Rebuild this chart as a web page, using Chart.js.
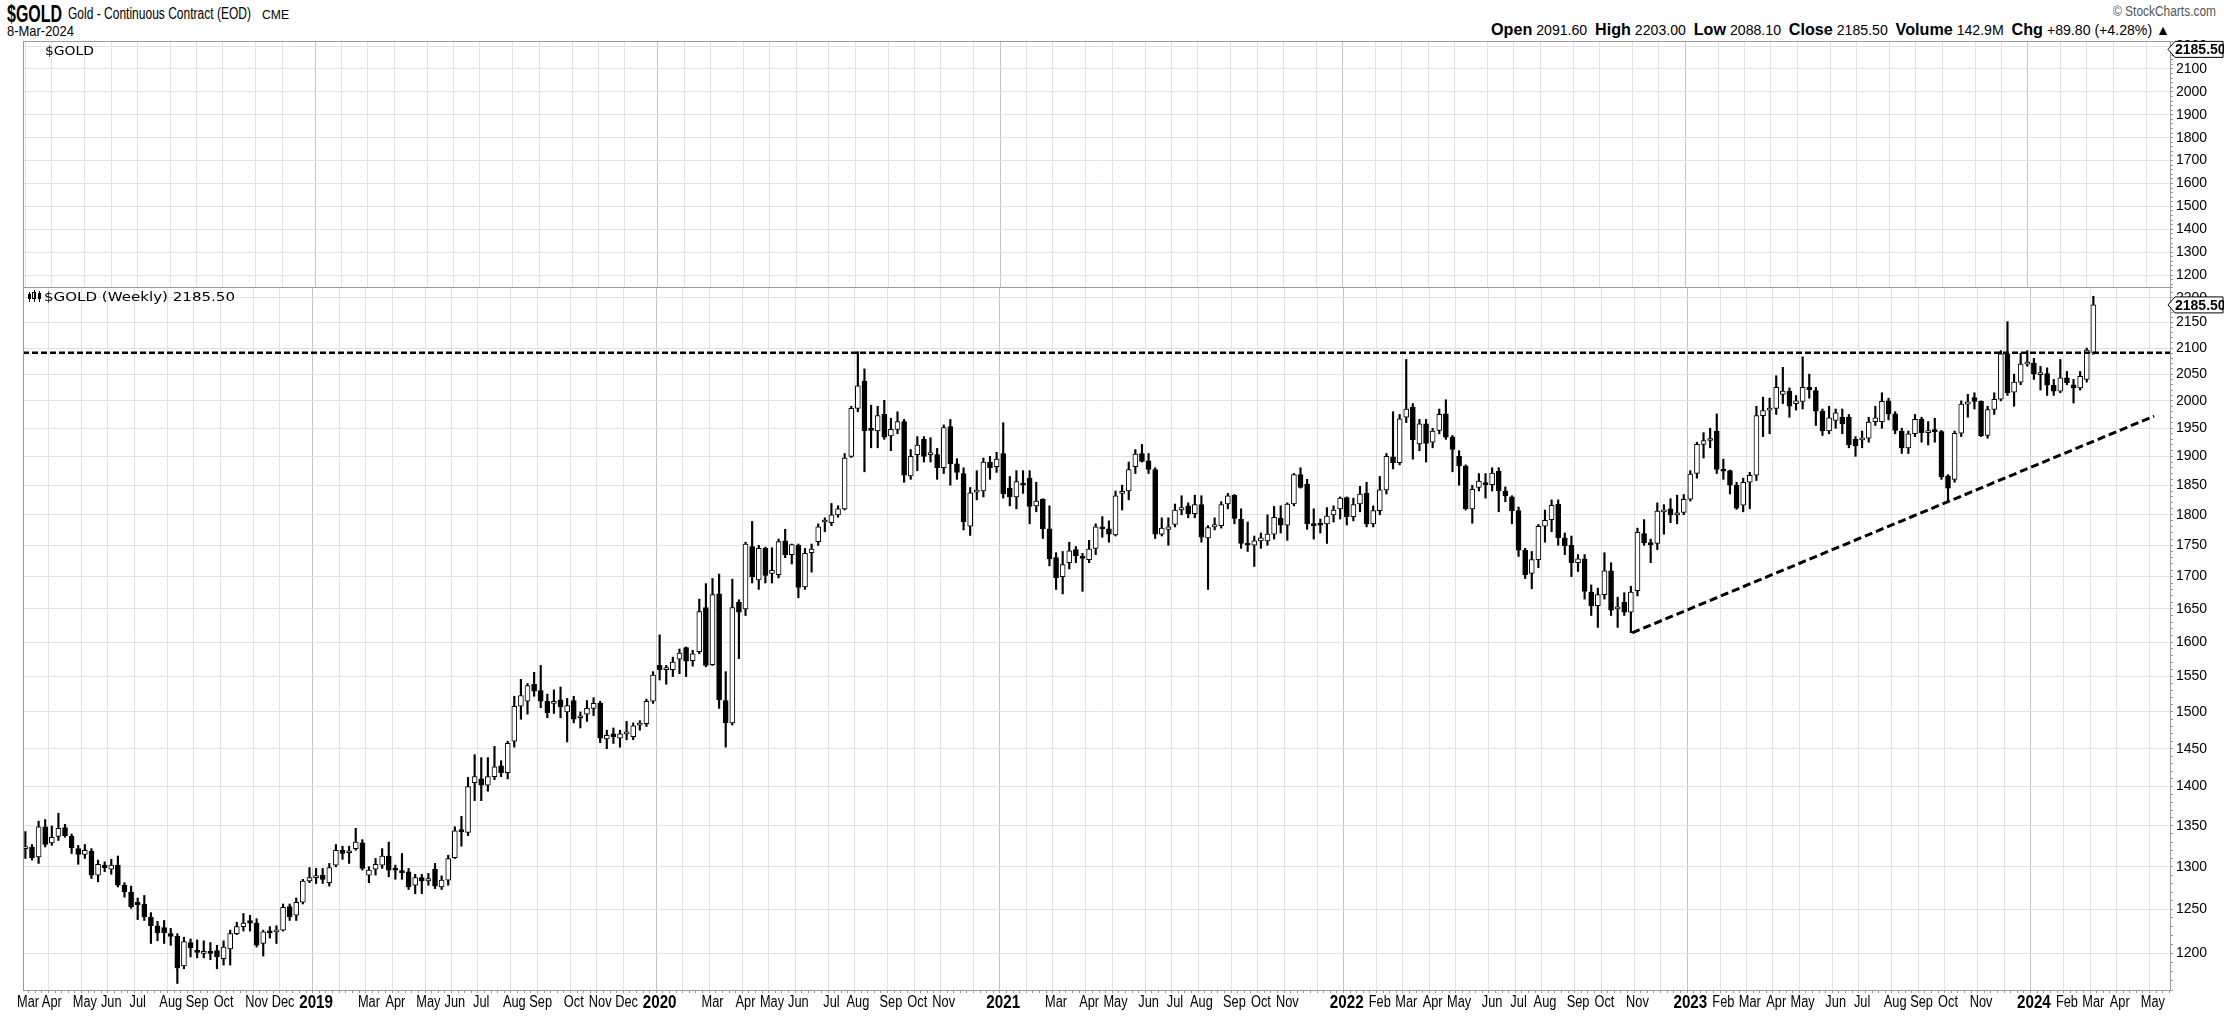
<!DOCTYPE html>
<html>
<head>
<meta charset="utf-8">
<script src="https://cdn.jsdelivr.net/npm/chart.js@4.4.1/dist/chart.umd.min.js"></script>
<style>
  body { margin: 0; background: #fff; width: 2224px; height: 1016px; overflow: hidden; position: relative; }
  canvas { position: absolute; left: 0; top: 0; }
  .t { position: absolute; white-space: nowrap; color: #000; font-family: "Liberation Sans", Arial, sans-serif; transform-origin: 0 0; }
  .lab { position: absolute; white-space: nowrap; color: #000; font: 13px "DejaVu Sans", Verdana, sans-serif; transform-origin: 0 0; }
</style>
</head>
<body>
<div class="t" id="hTitle" style="top:0px;font-size:24px;font-weight:bold;">$GOLD</div>
<div class="t" id="hName" style="top:5px;font-size:16px;">Gold - Continuous Contract (EOD)</div>
<div class="t" id="hExch" style="top:8px;font-size:12px;">CME</div>
<div class="t" id="hDate" style="top:22px;font-size:15px;">8-Mar-2024</div>
<div class="t" id="hCopy" style="top:3px;font-size:14px;color:#555;">© StockCharts.com</div>
<div class="t" id="hQuote" style="top:21px;font-size:14px;"><b style="font-size:16px">Open</b> 2091.60 &nbsp;<b style="font-size:16px">High</b> 2203.00 &nbsp;<b style="font-size:16px">Low</b> 2088.10 &nbsp;<b style="font-size:16px">Close</b> 2185.50 &nbsp;<b style="font-size:16px">Volume</b> 142.9M &nbsp;<b style="font-size:16px">Chg</b> +89.80 (+4.28%) ▲</div>

<canvas id="top" width="2224" height="300"></canvas>
<canvas id="main" width="2224" height="1016"></canvas>

<div class="lab" id="lTop" style="top:43px;">$GOLD</div>
<div class="lab" id="lMain" style="top:289px;">$GOLD (Weekly) 2185.50</div>

<script>
// weekly bars, dated by the Monday of each week, first bar = week of 5 Mar 2018
const startWeek = Date.UTC(2018, 2, 5);
const axisWeeks = 325; // axis runs on to late May 2024
const monthNames = ['Jan', 'Feb', 'Mar', 'Apr', 'May', 'Jun', 'Jul', 'Aug', 'Sep', 'Oct', 'Nov', 'Dec'];
// labels squeezed out next to a year label (4-week months)
const hiddenMonthLabels = ['2019-1', '2020-1', '2021-1', '2020-11', '2021-11', '2022-11', '2023-11'];

const opens = [
  1322,1324,1312,1349,1329,1337,1348,1337,1322,1315,1319,1290,1302,1297,1302,1278,1270,1258,1256,1241,
  1231,1229,1222,1219,1186,1212,1203,1200,1202,1203,1194,1205,1222,1230,1237,1234,1211,1224,1224,1226,
  1253,1243,1258,1283,1287,1290,1281,1302,1320,1317,1322,1329,1290,1297,1302,1313,1298,1295,1294,1278,
  1287,1283,1297,1276,1284,1311,1344,1342,1405,1410,1402,1413,1427,1418,1460,1508,1515,1539,1530,1515,
  1512,1517,1500,1516,1492,1497,1505,1512,1463,1470,1464,1470,1466,1482,1484,1515,1566,1560,1560,1575,
  1592,1573,1586,1652,1567,1673,1516,1485,1660,1650,1748,1695,1745,1705,1703,1757,1735,1750,1684,1738,
  1756,1788,1787,1800,1810,1900,1986,2037,1949,1945,1975,1936,1948,1962,1866,1903,1930,1903,1903,1880,
  1953,1887,1870,1781,1838,1840,1890,1882,1905,1845,1830,1853,1862,1815,1826,1777,1730,1700,1722,1743,
  1732,1727,1745,1779,1777,1767,1836,1840,1882,1905,1892,1877,1768,1776,1784,1808,1815,1802,1817,1762,
  1780,1782,1818,1833,1793,1752,1750,1757,1757,1768,1794,1783,1818,1868,1852,1785,1784,1785,1800,1810,
  1829,1797,1818,1836,1785,1807,1842,1899,1889,1970,1988,1922,1958,1925,1946,1976,1934,1900,1883,1810,
  1846,1853,1851,1874,1840,1830,1807,1742,1705,1727,1781,1792,1818,1762,1750,1722,1728,1676,1655,1672,
  1709,1650,1660,1645,1678,1769,1754,1753,1805,1810,1800,1804,1826,1870,1921,1928,1945,1877,1875,1850,
  1816,1855,1867,1973,1983,1986,2012,2018,1995,1999,2025,2019,1981,1945,1964,1970,1970,1930,1929,1932,
  1962,1962,2000,1976,1945,1915,1940,1966,1942,1945,1944,1866,1860,1941,1994,2006,1999,1937,1984,2003,
  2089,2016,2035,2069,2071,2049,2051,2029,2018,2043,2030,2024,2040,2091.6
];
const highs = [
  1343,1327,1356,1358,1350,1366,1352,1340,1326,1327,1322,1308,1306,1309,1313,1281,1277,1263,1266,1246,
  1236,1237,1228,1222,1218,1216,1215,1214,1212,1209,1214,1226,1235,1245,1243,1239,1226,1230,1231,1256,
  1256,1263,1285,1299,1298,1298,1304,1327,1325,1325,1347,1333,1300,1310,1322,1330,1302,1316,1298,1291,
  1291,1292,1304,1289,1314,1349,1362,1412,1442,1438,1438,1453,1434,1460,1522,1546,1540,1556,1566,1525,
  1531,1535,1519,1522,1500,1516,1520,1515,1475,1478,1475,1487,1485,1488,1518,1557,1611,1566,1578,1590,
  1593,1588,1665,1689,1697,1704,1557,1696,1664,1755,1789,1750,1747,1746,1760,1776,1752,1752,1745,1752,
  1785,1795,1819,1815,1905,1990,2093,2060,1992,1990,2001,1968,1980,1966,1912,1935,1935,1933,1914,1956,
  1966,1896,1880,1846,1875,1897,1900,1907,1960,1865,1875,1875,1875,1855,1827,1815,1738,1740,1755,1748,
  1737,1758,1785,1797,1790,1840,1850,1890,1912,1921,1905,1880,1795,1795,1818,1832,1820,1833,1832,1782,
  1795,1822,1836,1834,1810,1788,1765,1770,1800,1814,1815,1820,1870,1880,1860,1810,1793,1812,1815,1830,
  1830,1828,1848,1855,1815,1865,1905,1980,1975,2078,1995,1966,1966,1950,1985,2002,1937,1910,1885,1850,
  1870,1870,1880,1880,1847,1832,1813,1745,1740,1784,1808,1825,1825,1770,1765,1735,1735,1687,1682,1738,
  1722,1668,1675,1685,1778,1792,1760,1820,1817,1827,1833,1834,1875,1925,1942,1950,1976,1895,1876,1855,
  1862,1872,1990,2007,2005,2047,2063,2024,2010,2083,2050,2025,1985,1990,1985,1985,1975,1935,1945,1970,
  1990,2015,2005,1980,1950,1945,1975,1970,1962,1968,1946,1868,1945,2000,2012,2015,2000,1990,2015,2095,
  2152,2050,2090,2095,2080,2065,2062,2040,2078,2055,2040,2055,2100,2203
];
const lows = [
  1310,1308,1304,1324,1326,1332,1336,1316,1303,1310,1286,1282,1294,1291,1276,1264,1251,1238,1237,1211,
  1214,1211,1209,1167,1183,1196,1195,1195,1193,1183,1187,1187,1221,1225,1225,1207,1197,1217,1211,1225,
  1237,1237,1256,1281,1280,1280,1277,1300,1309,1304,1320,1296,1281,1290,1298,1288,1285,1285,1273,1268,
  1268,1278,1274,1273,1278,1310,1325,1338,1382,1382,1394,1409,1413,1410,1452,1490,1497,1522,1506,1492,
  1498,1492,1459,1485,1478,1487,1495,1458,1450,1457,1452,1462,1462,1475,1480,1512,1545,1539,1550,1554,
  1550,1565,1583,1564,1566,1505,1452,1482,1576,1640,1690,1680,1690,1690,1698,1730,1720,1667,1680,1707,
  1750,1772,1782,1796,1808,1898,1980,1873,1915,1915,1930,1910,1940,1855,1860,1875,1890,1890,1860,1870,
  1850,1860,1775,1766,1825,1830,1860,1872,1828,1815,1810,1836,1785,1805,1761,1717,1680,1673,1712,1722,
  1677,1722,1735,1763,1755,1765,1808,1825,1870,1890,1870,1761,1765,1750,1780,1800,1795,1795,1755,1680,
  1775,1778,1810,1785,1745,1740,1716,1745,1750,1760,1770,1758,1815,1845,1776,1760,1770,1753,1788,1793,
  1783,1790,1805,1780,1780,1800,1835,1878,1885,1960,1895,1910,1890,1915,1940,1930,1873,1850,1808,1786,
  1840,1828,1840,1805,1822,1785,1732,1697,1681,1714,1755,1772,1750,1735,1700,1708,1665,1640,1622,1665,
  1640,1622,1640,1614,1670,1750,1722,1743,1768,1787,1785,1800,1823,1862,1897,1915,1870,1860,1835,1809,
  1805,1810,1858,1935,1940,1975,1995,1970,1983,1985,2005,1955,1937,1940,1950,1940,1915,1900,1915,1925,
  1955,1950,1965,1940,1905,1905,1935,1925,1920,1925,1860,1822,1855,1935,1970,1985,1935,1932,1975,2000,
  2010,1990,2030,2065,2040,2020,2010,2010,2015,2030,1996,2020,2035,2088.1
];
const closes = [
  1324,1311,1349,1327,1336,1347,1338,1323,1315,1320,1290,1303,1299,1302,1278,1270,1253,1255,1241,1231,
  1223,1223,1219,1184,1213,1206,1201,1202,1200,1196,1207,1222,1230,1234,1234,1209,1224,1223,1226,1252,
  1241,1258,1283,1287,1289,1285,1299,1320,1316,1319,1330,1298,1296,1303,1313,1296,1296,1293,1276,1287,
  1283,1286,1277,1284,1310,1344,1343,1400,1413,1402,1413,1426,1418,1457,1508,1523,1537,1529,1515,1499,
  1514,1507,1509,1490,1493,1505,1512,1464,1468,1466,1470,1471,1481,1484,1515,1552,1560,1561,1571,1584,
  1572,1583,1646,1566,1672,1517,1485,1652,1645,1752,1700,1745,1702,1710,1756,1735,1751,1683,1737,1744,
  1780,1790,1800,1810,1897,1986,2028,1945,1946,1973,1934,1948,1962,1867,1900,1920,1900,1904,1880,1951,
  1887,1872,1788,1837,1840,1890,1880,1895,1835,1830,1856,1850,1814,1823,1777,1728,1698,1719,1741,1733,
  1729,1744,1780,1777,1768,1832,1839,1877,1904,1891,1877,1768,1778,1780,1808,1812,1802,1817,1763,1779,
  1784,1817,1832,1794,1753,1750,1757,1762,1768,1796,1783,1818,1868,1846,1785,1782,1783,1798,1808,1828,
  1797,1817,1835,1785,1807,1842,1900,1889,1967,1985,1929,1958,1923,1945,1975,1934,1912,1883,1810,1843,
  1857,1851,1871,1840,1832,1807,1742,1703,1727,1781,1791,1816,1762,1749,1722,1728,1677,1655,1672,1709,
  1648,1653,1645,1676,1771,1754,1751,1806,1807,1800,1802,1826,1869,1921,1928,1930,1877,1874,1850,1811,
  1855,1867,1973,1982,1986,2025,2018,1990,2000,2025,2021,1981,1945,1969,1978,1958,1920,1919,1931,1961,
  1969,1999,1976,1946,1915,1940,1966,1942,1945,1944,1864,1845,1941,1994,1998,1999,1936,1984,2003,2089,
  2015,2035,2069,2072,2050,2051,2029,2018,2043,2034,2024,2046,2096,2185.5
];

// drawn lines: resistance at the Aug-2020 high and the rising trendline from the Nov-2022 low
const resistance = 2091;
const trendStart = { week: 243.2, price: 1614 };
const trendEnd = { week: 322.2, price: 1972 };
const lastClose = 2185.5;

const xMin = -0.36, xMax = 324.6;

// header text: stretch each piece to the span it takes in the original
function fit(id, left, right) {
  const el = document.getElementById(id);
  const w = el.getBoundingClientRect().width;
  el.style.left = left + 'px';
  el.style.transform = 'scaleX(' + ((right - left) / w) + ')';
}
fit('hTitle', 7, 62);
fit('hName', 68, 251);
fit('hExch', 262, 289);
fit('hDate', 7, 74);
fit('hCopy', 2113, 2216);
fit('hQuote', 1491, 2170);
fit('lTop', 45, 94);
fit('lMain', 44, 235);

// month grid / labels
const weekDate = i => new Date(startWeek + i * 7 * 86400000);
const monthTicks = new Map();
for (let i = 0; i < axisWeeks; i++) {
  const d = weekDate(i);
  const m = d.getUTCMonth(), y = d.getUTCFullYear();
  if (i === 0 || weekDate(i - 1).getUTCMonth() !== m) {
    let label = m === 0 ? String(y) : monthNames[m];
    if (hiddenMonthLabels.includes(y + '-' + m)) label = '';
    monthTicks.set(i, { label, year: m === 0 });
  }
}

const bodies = opens.map((o, i) => ({ x: i, y: [o, closes[i]] }));
const wicks = highs.map((h, i) => ({ x: i, y: [lows[i], h] }));

function gridColor(ctx) {
  const t = monthTicks.get(ctx.tick && ctx.tick.value);
  if (!t) return 'rgba(0,0,0,0)';
  return t.year ? '#c4c4c4' : '#e2e2e2';
}

function drawTag(ctx, x, y, text) {
  ctx.save();
  ctx.beginPath();
  ctx.moveTo(x - 2, y);
  ctx.lineTo(x + 5, y - 8);
  ctx.lineTo(2223, y - 8);
  ctx.lineTo(2223, y + 8);
  ctx.lineTo(x + 5, y + 8);
  ctx.closePath();
  ctx.fillStyle = '#fff';
  ctx.fill();
  ctx.strokeStyle = '#000';
  ctx.lineWidth = 1;
  ctx.stroke();
  ctx.fillStyle = '#000';
  ctx.font = 'bold 14px "Liberation Sans", Arial';
  ctx.textBaseline = 'middle';
  ctx.fillText(text, x + 5, y + 1);
  ctx.restore();
}

// month / year labels under the x axis, condensed like the original, placed through the x scale
function drawMonthLabels(chart) {
  const { ctx, chartArea: a } = chart;
  const xs = chart.scales.x;
  ctx.save();
  ctx.fillStyle = '#000';
  ctx.textAlign = 'center';
  ctx.textBaseline = 'top';
  for (const [i, t] of monthTicks) {
    if (!t.label) continue;
    const squeeze = t.year ? 0.8 : 0.8;
    ctx.font = t.year ? 'bold 19px "Liberation Sans", Arial' : '16px "Liberation Sans", Arial';
    const w = ctx.measureText(t.label).width * squeeze;
    let x = xs.getPixelForValue(i);
    if (x - w / 2 < a.left - 6) x = a.left - 6 + w / 2;
    ctx.save();
    ctx.translate(x, a.bottom + (t.year ? 3 : 5));
    ctx.scale(squeeze, 1);
    ctx.fillText(t.label, 0, 0);
    ctx.restore();
  }
  ctx.restore();
}

const framePlugin = {
  id: 'frame',
  afterDraw(chart) {
    const { ctx, chartArea: a } = chart;
    ctx.save();
    ctx.strokeStyle = '#9a9a9a';
    ctx.lineWidth = 1;
    ctx.strokeRect(a.left + 0.5, a.top + 0.5, a.right - a.left, a.bottom - a.top);
    ctx.restore();
    drawTag(ctx, a.right, chart.scales.y.getPixelForValue(lastClose), lastClose.toFixed(2));
    if (chart.canvas.id === 'main') {
      drawMonthLabels(chart);
      // little candle icon in front of the legend
      ctx.save();
      ctx.fillStyle = '#000';
      ctx.strokeStyle = '#000';
      ctx.fillRect(29, 292, 1, 10); ctx.fillRect(28, 294, 3, 5);
      ctx.fillRect(34, 290, 1, 12); ctx.strokeRect(32.5, 292.5, 3, 6);
      ctx.fillRect(39, 291, 1, 11); ctx.fillRect(38, 293, 3, 6);
      ctx.restore();
    }
  }
};

const tickFont = { family: '"Liberation Sans", Arial, sans-serif', size: 14 };

new Chart(document.getElementById('top'), {
  type: 'bar',
  data: { datasets: [] },
  plugins: [framePlugin],
  options: {
    responsive: false, animation: false, devicePixelRatio: 1,
    layout: { padding: { left: 23, right: 0, top: 41, bottom: 13 } },
    plugins: { legend: { display: false }, tooltip: { enabled: false } },
    scales: {
      x: {
        type: 'linear', min: xMin, max: xMax, bounds: 'data',
        afterBuildTicks: s => { s.ticks = Array.from({ length: axisWeeks }, (_, i) => ({ value: i })); },
        afterFit: s => { s.height = 0; },
        ticks: { display: false },
        grid: { color: gridColor, drawTicks: false },
        border: { display: false }
      },
      y: {
        type: 'linear', position: 'right', min: 1148, max: 2222, bounds: 'data',
        afterBuildTicks: s => { const t = []; for (let v = 1160; v <= 2220; v += 20) t.push({ value: v }); s.ticks = t; },
        afterFit: s => { s.width = 54; },
        ticks: { autoSkip: false, padding: 3, color: '#000', font: tickFont, callback: v => (v % 100 === 0 ? String(v) : '') },
        grid: { color: c => (c.tick && c.tick.value % 100 === 0 ? '#e2e2e2' : 'rgba(0,0,0,0)'), tickColor: '#999', tickLength: 3 },
        border: { color: '#999' }
      }
    }
  }
});

new Chart(document.getElementById('main'), {
  type: 'bar',
  data: {
    datasets: [
      { type: 'line', data: [{ x: xMin, y: resistance }, { x: xMax, y: resistance }], borderColor: '#000', borderWidth: 2.5, borderDash: [6, 3], pointRadius: 0, order: -1 },
      { type: 'line', data: [{ x: trendStart.week, y: trendStart.price }, { x: trendEnd.week, y: trendEnd.price }], borderColor: '#000', borderWidth: 3, borderDash: [8, 4], pointRadius: 0, order: -1 },
      {
        data: bodies, grouped: false, barThickness: 5, minBarLength: 2, order: 0,
        backgroundColor: c => (c.raw && c.raw.y[1] >= c.raw.y[0] ? '#fff' : '#000'),
        borderColor: '#000', borderWidth: 1, borderSkipped: false
      },
      { data: wicks, grouped: false, barThickness: 1.5, backgroundColor: '#000', borderWidth: 0, order: 1 }
    ]
  },
  plugins: [framePlugin],
  options: {
    responsive: false, animation: false, devicePixelRatio: 1,
    layout: { padding: { left: 23, right: 0, top: 287, bottom: 0 } },
    plugins: { legend: { display: false }, tooltip: { enabled: false } },
    scales: {
      x: {
        type: 'linear', min: xMin, max: xMax, bounds: 'data', offset: false,
        afterBuildTicks: s => { s.ticks = Array.from({ length: axisWeeks }, (_, i) => ({ value: i })); },
        afterFit: s => { s.height = 26; },
        ticks: { display: false },
        grid: { color: gridColor, tickColor: '#999', tickLength: 3 },
        border: { color: '#999' }
      },
      y: {
        type: 'logarithmic', position: 'right', min: 1160, max: 2222, bounds: 'data',
        afterBuildTicks: s => { const t = []; for (let v = 1160; v <= 2220; v += 10) t.push({ value: v }); s.ticks = t; },
        afterFit: s => { s.width = 54; },
        ticks: { autoSkip: false, padding: 3, color: '#000', font: tickFont, callback: v => (v % 50 === 0 ? String(v) : '') },
        grid: { color: c => (c.tick && c.tick.value % 50 === 0 ? '#e2e2e2' : 'rgba(0,0,0,0)'), tickColor: '#999', tickLength: 3 },
        border: { color: '#999' }
      }
    }
  }
});
</script>
</body>
</html>
